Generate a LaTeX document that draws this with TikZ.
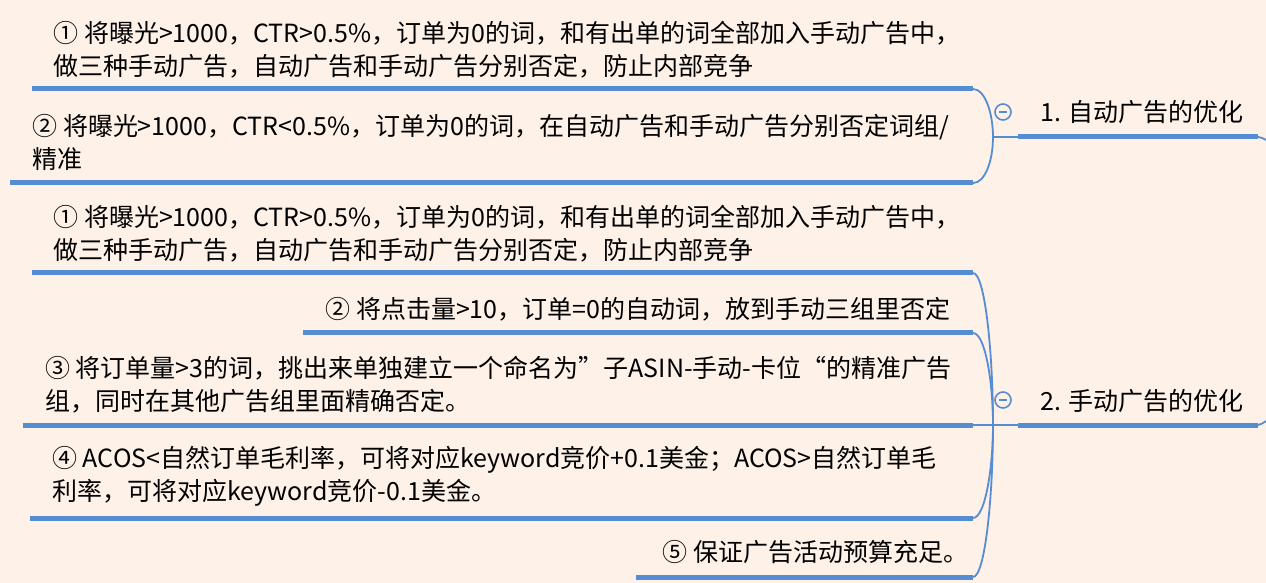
\documentclass[tikz,border=0pt]{standalone}
\usepackage{fontspec}
\setmainfont{Noto Sans CJK SC}
\usetikzlibrary{positioning}
\definecolor{paper}{RGB}{253,241,232}
\definecolor{mapblue}{RGB}{86,140,210}

\begin{document}
\begin{tikzpicture}[
		x=0.5pt, y=-0.5pt,
		leaf/.style={anchor=west, align=left, inner sep=0pt, text=black, font=\fontsize{12.5}{16.5}\selectfont},
		topic/.style={anchor=west, inner sep=0pt, text=black, font=\fontsize{12.5}{16.5}\selectfont},
		bar/.style={draw=mapblue, line width=2.5pt},
		link/.style={draw=mapblue, line width=0.9pt},
		fold/.style={circle, draw=mapblue, line width=0.8pt, fill=paper, minimum size=8pt, inner sep=0pt,
			path picture={\draw[mapblue, line width=0.8pt] ([xshift=-2pt]path picture bounding box.center) -- ([xshift=2pt]path picture bounding box.center);}}
		]
		
		% Page
		\fill[paper] (0,0) rectangle (1266,583);
		\useasboundingbox (0,0) rectangle (1266,583);
		
		% Topics on the right
		\node[topic] (r1) at (1040,112) {1. 自动广告的优化};
		\node[topic] (r2) at (1040,401) {2. 手动广告的优化};
		\node[fold] (f1) at (1003,112) {};
		\node[fold] (f2) at (1003,400) {};
		
		\coordinate (j1) at (993,137);
		\coordinate (r1l) at (1018,137);
		\coordinate (r1r) at (1258,137);
		\coordinate (e1) at (1266,140);
		\coordinate (j2) at (993,425);
		\coordinate (r2l) at (1018,425);
		\coordinate (r2r) at (1258,425);
		\coordinate (e2) at (1266,421);
		
		% Items of topic 1
		\node[leaf] (t11) at (53,49.5) {① 将曝光>1000，CTR>0.5\%，订单为0的词，和有出单的词全部加入手动广告中，\\做三种手动广告，自动广告和手动广告分别否定，防止内部竞争};
		\node[leaf] (t12) at (32,142) {② 将曝光>1000，CTR<0.5\%，订单为0的词，在自动广告和手动广告分别否定词组/\\精准};
		
		\coordinate (u11l) at (32,89);  \coordinate (u11r) at (973,89);
		\coordinate (u12l) at (10,183); \coordinate (u12r) at (973,183);
		
		% Items of topic 2
		\node[leaf] (t21) at (53,233.5) {① 将曝光>1000，CTR>0.5\%，订单为0的词，和有出单的词全部加入手动广告中，\\做三种手动广告，自动广告和手动广告分别否定，防止内部竞争};
		\node[leaf] (t22) at (325,309) {② 将点击量>10，订单=0的自动词，放到手动三组里否定};
		\node[leaf] (t23) at (45,385) {③ 将订单量>3的词，挑出来单独建立一个命名为”子ASIN-手动-卡位“的精准广告\\组，同时在其他广告组里面精确否定。};
		\node[leaf] (t24) at (52,476.5) {④ ACOS<自然订单毛利率，可将对应keyword竞价+0.1美金；ACOS>自然订单毛\\利率，可将对应keyword竞价-0.1美金。};
		\node[leaf] (t25) at (662,552) {⑤ 保证广告活动预算充足。};
		
		\coordinate (u21l) at (32,273);  \coordinate (u21r) at (973,273);
		\coordinate (u22l) at (303,333); \coordinate (u22r) at (973,333);
		\coordinate (u23l) at (23,425);  \coordinate (u23r) at (973,425);
		\coordinate (u24l) at (30,518);  \coordinate (u24r) at (973,518);
		\coordinate (u25l) at (636,577); \coordinate (u25r) at (973,577);
		
		% Underlines
		\draw[bar] (u11l) -- (u11r);
		\draw[bar] (u12l) -- (u12r);
		\draw[bar] (u21l) -- (u21r);
		\draw[bar] (u22l) -- (u22r);
		\draw[bar] (u23l) -- (u23r);
		\draw[bar] (u24l) -- (u24r);
		\draw[bar] (u25l) -- (u25r);
		\draw[bar] (r1l) -- (r1r);
		\draw[bar] (r2l) -- (r2r);
		
		% Branches
		\draw[link] (u11r) to[out=0, in=90, out distance=6pt, in distance=12pt] (j1);
		\draw[link] (u12r) to[out=0, in=-90, out distance=6pt, in distance=12pt] (j1);
		\draw[link] (j1) -- (r1l);
		
		\draw[link] (u21r) to[out=0, in=90, out distance=6pt, in distance=36pt] (j2);
		\draw[link] (u22r) to[out=0, in=90, out distance=6pt, in distance=22pt] (j2);
		\draw[link] (u23r) -- (j2) -- (r2l);
		\draw[link] (u24r) to[out=0, in=-90, out distance=6pt, in distance=22pt] (j2);
		\draw[link] (u25r) to[out=0, in=-90, out distance=6pt, in distance=36pt] (j2);
		
		% Tails to the parent
		\draw[link] (r1r) to[out=0, in=150, out distance=1.5pt, in distance=1.5pt] (e1);
		\draw[link] (r2r) to[out=0, in=-150, out distance=1.5pt, in distance=1.5pt] (e2);
		
	\end{tikzpicture}
\end{document}
